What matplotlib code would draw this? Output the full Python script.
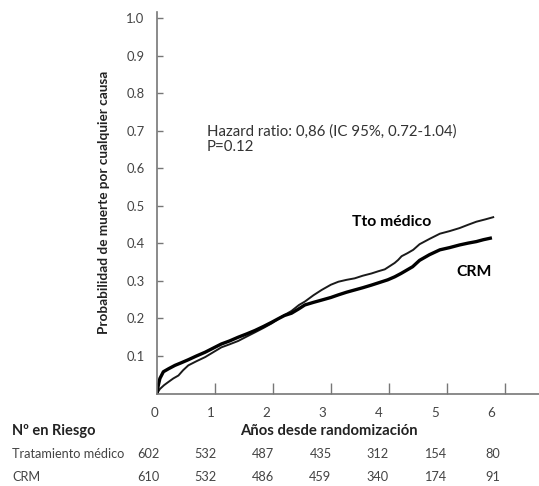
import matplotlib
matplotlib.use('Agg')
import matplotlib.pyplot as plt
from matplotlib.transforms import blended_transform_factory

plt.rcParams['font.family'] = ['Lato', 'DejaVu Sans']

# curvas de Kaplan-Meier
tto_t = [0.00, 0.05, 0.12, 0.19, 0.28, 0.37, 0.45, 0.54, 0.68, 0.83, 0.97, 1.11,
         1.25, 1.40, 1.55, 1.69, 1.84, 1.98, 2.15, 2.32, 2.45, 2.55, 2.70, 2.84,
         3.00, 3.13, 3.27, 3.41, 3.55, 3.70, 3.82, 3.93, 4.02, 4.10, 4.16, 4.22,
         4.32, 4.42, 4.53, 4.70, 4.88, 5.05, 5.22, 5.37, 5.51, 5.66, 5.80]
tto_p = [0.000, 0.012, 0.022, 0.030, 0.040, 0.048, 0.062, 0.075, 0.086, 0.097, 0.110, 0.123,
         0.131, 0.140, 0.152, 0.163, 0.175, 0.187, 0.205, 0.220, 0.236, 0.245, 0.262, 0.276,
         0.290, 0.298, 0.303, 0.307, 0.314, 0.320, 0.326, 0.331, 0.340, 0.348, 0.356, 0.366,
         0.374, 0.383, 0.398, 0.412, 0.426, 0.433, 0.441, 0.450, 0.458, 0.464, 0.470]

crm_t = [0.00, 0.02, 0.05, 0.11, 0.20, 0.31, 0.42, 0.54, 0.68, 0.83, 0.97, 1.11,
         1.25, 1.40, 1.55, 1.69, 1.84, 1.98, 2.10, 2.20, 2.32, 2.45, 2.55, 2.70,
         2.84, 3.00, 3.13, 3.27, 3.41, 3.55, 3.70, 3.84, 3.98, 4.10, 4.21, 4.31,
         4.41, 4.53, 4.70, 4.88, 5.05, 5.22, 5.37, 5.51, 5.63, 5.75]
crm_p = [0.000, 0.020, 0.040, 0.058, 0.066, 0.075, 0.082, 0.090, 0.100, 0.110, 0.121, 0.132,
         0.140, 0.150, 0.159, 0.168, 0.179, 0.190, 0.200, 0.208, 0.214, 0.226, 0.236, 0.243,
         0.249, 0.256, 0.263, 0.270, 0.276, 0.282, 0.289, 0.296, 0.303, 0.311, 0.320, 0.329,
         0.338, 0.355, 0.370, 0.383, 0.389, 0.396, 0.401, 0.405, 0.410, 0.414]

years = [0, 1, 2, 3, 4, 5, 6]
yticks = [0.1, 0.2, 0.3, 0.4, 0.5, 0.6, 0.7, 0.8, 0.9, 1.0]
riesgo_tto = [602, 532, 487, 435, 312, 154, 80]
riesgo_crm = [610, 532, 486, 459, 340, 174, 91]

W, H = 539, 486
fig = plt.figure(figsize=(W / 100, H / 100), dpi=100)
ax = fig.add_axes([157 / W, 1 - 393.5 / H, (W - 157) / W, (393.5 - 12) / H])

ax.plot(tto_t, tto_p, color='#1a1a1a', lw=1.4)
ax.plot(crm_t, crm_p, color='black', lw=2.4)

ax.set_xlim(0, 6.59)
ax.set_ylim(0, 1.017)
ax.spines['top'].set_visible(False)
ax.spines['right'].set_visible(False)
for s in ['left', 'bottom']:
    ax.spines[s].set_color('#777777')
    ax.spines[s].set_linewidth(1.2)

ax.set_yticks(yticks)
ax.set_yticklabels(['%.1f' % v for v in yticks], fontsize=9.4, color='#444444')
ax.tick_params(axis='y', direction='in', length=4, width=1, color='#777777', pad=9)
ax.set_xticks(years)
ax.set_xticklabels([])
ax.tick_params(axis='x', direction='in', length=8, width=1, color='#777777')

ax.set_ylabel('Probabilidad de muerte por cualquier causa', fontsize=9.8,
              fontweight='bold', color='#222222', labelpad=12)

ax.text(0.86, 0.698, 'Hazard ratio: 0,86 (IC 95%, 0.72-1.04)', fontsize=10.8,
        color='#333333', va='center')
ax.text(0.86, 0.656, 'P=0.12', fontsize=10.8, color='#333333', va='center')
ax.text(3.36, 0.457, 'Tto médico', fontsize=11.3, fontweight='bold', va='center')
ax.text(5.17, 0.324, 'CRM', fontsize=11.3, fontweight='bold', va='center')

# etiquetas del eje x y tabla de pacientes en riesgo
tr = blended_transform_factory(ax.transData, fig.transFigure)
for i, yr in enumerate(years):
    ax.text(yr * 0.97 - 0.05, 1 - 413 / H, str(yr), transform=tr, ha='center',
            va='center', fontsize=9.6, color='#444444')
    xnum = yr * 0.99 - 0.15
    ax.text(xnum, 1 - 454 / H, str(riesgo_tto[i]), transform=tr, ha='center',
            va='center', fontsize=9.2, color='#444444')
    ax.text(xnum, 1 - 477 / H, str(riesgo_crm[i]), transform=tr, ha='center',
            va='center', fontsize=9.2, color='#444444')

fig.text(329 / W, 1 - 431 / H, 'Años desde randomización', ha='center', va='center',
         fontsize=10.7, fontweight='bold', color='#222222')
fig.text(12 / W, 1 - 431 / H, 'Nº en Riesgo', ha='left', va='center',
         fontsize=10.5, fontweight='bold', color='#222222')
fig.text(12 / W, 1 - 454 / H, 'Tratamiento médico', ha='left', va='center',
         fontsize=9.2, color='#444444')
fig.text(12 / W, 1 - 477 / H, 'CRM', ha='left', va='center',
         fontsize=9.2, color='#444444')

fig.savefig('out.png', dpi=100)
